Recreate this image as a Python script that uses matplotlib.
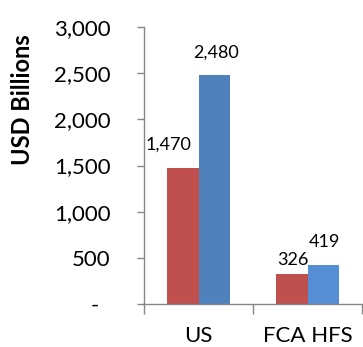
import numpy as np
import matplotlib
matplotlib.use('Agg')
import matplotlib.pyplot as plt

# Values
categories = ['US', 'FCA HFS']
series_a = [1470, 326]
series_b = [2480, 419]
label_a = ['1,470', '326']
label_b = ['2,480', '419']
y_ticks = [0, 500, 1000, 1500, 2000, 2500, 3000]
y_tick_labels = ['-  ', '500', '1,000', '1,500', '2,000', '2,500', '3,000']

plt.rcParams['font.family'] = ['Lato', 'DejaVu Sans']

fig = plt.figure(figsize=(3.63, 3.47), dpi=100)
ax = fig.add_axes([144 / 363, 43 / 347, 218 / 363, 277 / 347])

x = np.arange(len(categories))
width = 0.29
red = '#C0504D'
blues = ['#4F81BD', '#558ED5']
ax.bar(x - width / 2, series_a, width, color=red)
ax.bar(x + width / 2, series_b, width, color=blues)

# data labels (offsets in points, label 1,470 sits left, 326 sits low)
off_a = [(-10, 11), (1, 4)]
off_b = [(1, 10), (1, 11)]
for i in range(len(categories)):
    ax.annotate(label_a[i], (x[i] - width / 2, series_a[i]),
                xytext=off_a[i], textcoords='offset points',
                ha='center', va='bottom', fontsize=13, color='black')
    ax.annotate(label_b[i], (x[i] + width / 2, series_b[i]),
                xytext=off_b[i], textcoords='offset points',
                ha='center', va='bottom', fontsize=13, color='black')

ax.set_ylim(0, 3000)
ax.set_xlim(-0.5, len(categories) - 0.5)
ax.set_yticks(y_ticks)
ax.set_yticklabels(y_tick_labels)
ax.set_xticks(x)
ax.set_xticklabels(categories)
ax.set_xticks(np.arange(len(categories) + 1) - 0.5, minor=True)

grey = '#868686'
for s in ['top', 'right']:
    ax.spines[s].set_visible(False)
for s in ['left', 'bottom']:
    ax.spines[s].set_color(grey)
    ax.spines[s].set_linewidth(1.0)

ax.tick_params(axis='y', length=5, width=1.0, color=grey, pad=19,
               labelsize=16)
ax.tick_params(axis='x', which='major', length=0, pad=16, labelsize=16)
ax.tick_params(axis='x', which='minor', length=7, width=1.0, color=grey)

fig.text(23 / 363, 1 - 100 / 347, 'USD Billions', rotation=90,
         ha='center', va='center', fontsize=17, fontweight='bold')

fig.savefig('out.png', dpi=100)
